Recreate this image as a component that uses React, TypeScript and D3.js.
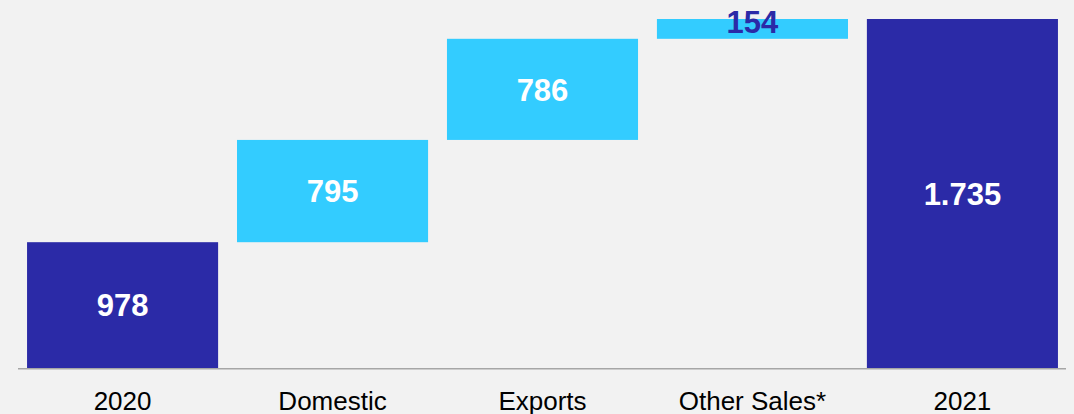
import React from "react";
import * as d3 from "d3";

const categories = ["2020", "Domestic", "Exports", "Other Sales*", "2021"];
const startValue = 978;
const deltas = [795, 786, 154];
const valueLabels = ["978", "795", "786", "154", "1.735"];
const kinds = ["total", "delta", "delta", "delta", "total"];

const W = 1074;
const H = 414;

export default function App() {
  const x = d3
    .scaleBand<string>()
    .domain(categories)
    .range([17.6, 1067.4])
    .paddingInner(0.09)
    .paddingOuter(0.045);

  const segs: { cat: string; y0: number; y1: number; kind: string; label: string }[] = [];
  let cum = startValue;
  segs.push({ cat: categories[0], y0: 0, y1: startValue, kind: kinds[0], label: valueLabels[0] });
  deltas.forEach((d, i) => {
    segs.push({ cat: categories[i + 1], y0: cum, y1: cum + d, kind: kinds[i + 1], label: valueLabels[i + 1] });
    cum += d;
  });
  segs.push({ cat: categories[4], y0: 0, y1: cum, kind: kinds[4], label: valueLabels[4] });

  const y = d3.scaleLinear().domain([0, cum]).range([368, 19]);

  const dark = "#2B2AA7";
  const light = "#33CCFF";

  return (
    <svg
      width={W}
      height={H}
      style={{ position: "absolute", left: 0, top: 0, display: "block" }}
      fontFamily="'Liberation Sans', Arial, sans-serif"
    >
      <rect x={0} y={0} width={W} height={H} fill="#F2F2F2" />
      {segs.map((s) => {
        const top = y(s.y1);
        const bot = y(s.y0);
        const h = bot - top;
        const small = h < 30;
        const cx = (x(s.cat) as number) + x.bandwidth() / 2;
        return (
          <g key={s.cat}>
            <rect
              x={x(s.cat)}
              y={top}
              width={x.bandwidth()}
              height={h}
              fill={s.kind === "total" ? dark : light}
            />
            {small ? (
              <text
                x={cx}
                y={top + 14}
                textAnchor="middle"
                fontSize={31}
                fontWeight="bold"
                fill={dark}
              >
                {s.label}
              </text>
            ) : (
              <text
                x={cx}
                y={top + h / 2}
                dy="0.36em"
                textAnchor="middle"
                fontSize={31}
                fontWeight="bold"
                fill="#FFFFFF"
              >
                {s.label}
              </text>
            )}
          </g>
        );
      })}
      <line x1={18} x2={1066} y1={368.7} y2={368.7} stroke="#A6A6A6" strokeWidth={1.5} />
      {categories.map((c) => (
        <text
          key={c}
          x={(x(c) as number) + x.bandwidth() / 2}
          y={409.5}
          textAnchor="middle"
          fontSize={26}
          fill="#000000"
        >
          {c}
        </text>
      ))}
    </svg>
  );
}
